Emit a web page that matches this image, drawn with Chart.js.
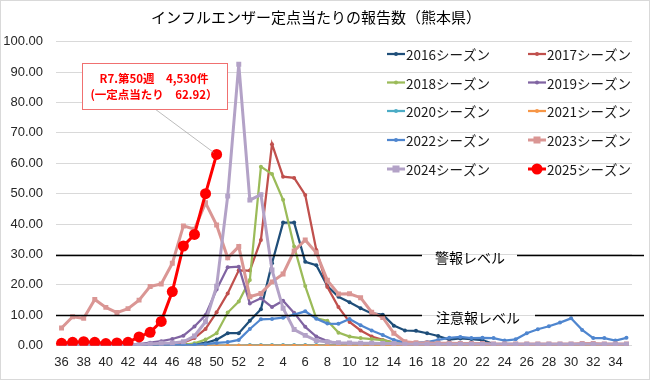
<!DOCTYPE html>
<html>
<head>
<meta charset="utf-8">
<script src="https://cdn.jsdelivr.net/npm/chart.js@4.4.1/dist/chart.umd.min.js"></script>
<style>
  html, body { margin: 0; padding: 0; background: #ffffff; }
  #wrap { position: relative; width: 650px; height: 380px; }
  canvas { display: block; }
</style>
</head>
<body>
<div id="wrap"><canvas id="c" width="650" height="380"></canvas></div>
<script>
// ---- data ----
const weeks = ['36','37','38','39','40','41','42','43','44','45','46','47','48','49','50','51','52',
  '1','2','3','4','5','6','7','8','9','10','11','12','13','14','15','16','17','18','19','20',
  '21','22','23','24','25','26','27','28','29','30','31','32','33','34','35'];

const s2016 = [0.2,0.2,0.2,0.2,0.2,0.2,0.2,0.2,0.3,0.3,0.3,0.4,0.5,0.9,2.0,4.1,4.1,
  8.2,12.0,27.1,40.5,40.5,27.6,26.5,19.6,16.1,14.3,12.3,10.6,10.2,6.6,5.0,4.9,4.1,3.2,2.0,2.4,
  2.2,1.8,0.5,0.3,0.3,0.3,0.3,0.3,0.3,0.3,0.3,0.3,0.3,0.3,0.3];
const s2017 = [0.1,0.1,0.1,0.1,0.1,0.1,0.1,0.1,0.1,0.1,0.5,1.0,2.5,5.5,11.0,17.2,24.8,
  24.7,34.8,66.3,55.6,55.2,49.6,31.5,19.3,12.7,7.8,5.0,3.0,1.9,1.0,0.6,0.5,0.3,0.3,0.3,0.3,
  0.3,0.3,0.3,0.3,0.3,0.3,0.3,0.3,0.3,0.3,0.3,0.3,0.3,0.3,0.3];
const s2018 = [0.2,0.2,0.2,0.2,0.2,0.2,0.2,0.2,0.2,0.2,0.2,0.3,0.8,2.0,4.1,10.9,14.5,
  21.6,58.9,56.5,48.0,32.6,19.6,9.0,8.2,4.3,3.0,2.5,2.2,1.8,1.0,0.5,0.3,0.3,0.3,0.3,0.3,
  0.3,0.3,0.3,0.3,0.3,0.3,0.3,0.3,0.3,0.3,0.3,0.3,0.3,0.3,0.3];
const s2019 = [0.3,0.3,0.3,0.3,0.3,0.3,0.3,0.5,1.0,1.5,2.2,3.3,6.3,10.1,18.5,25.8,26.0,
  13.9,15.6,12.7,14.8,10.8,6.2,3.0,1.5,0.8,0.5,0.3,0.3,0.3,0.3,0.3,0.3,0.3,0.3,0.3,0.3,
  0.3,0.3,0.3,0.3,0.3,0.3,0.3,0.3,0.3,0.3,0.3,0.3,0.3,0.3,0.3];
const s2020 = [0.1,0.1,0.1,0.1,0.1,0.1,0.1,0.1,0.1,0.1,0.1,0.1,0.1,0.1,0.1,0.1,0.1,
  0.2,0.2,0.2,0.2,0.2,0.2,0.2,0.2,0.2,0.2,0.1,0.1,0.1,0.1,0.1,0.1,0.1,0.1,0.1,0.1,
  0.1,0.1,0.1,0.1,0.1,0.1,0.1,0.1,0.1,0.1,0.1,0.1,0.1,0.1,0.1];
const s2021 = [0.0,0.0,0.0,0.0,0.0,0.0,0.0,0.0,0.0,0.0,0.0,0.0,0.0,0.0,0.0,0.0,0.0,
  0.0,0.0,0.0,0.0,0.0,0.0,0.0,0.0,0.0,0.0,0.0,0.0,0.0,0.0,0.0,0.0,0.0,0.0,0.0,0.0,
  0.0,0.0,0.0,0.0,0.1,0.1,0.1,0.1,0.1,0.1,0.2,0.2,0.1,0.1,0.1];
const s2022 = [0.2,0.2,0.2,0.2,0.2,0.2,0.2,0.2,0.2,0.2,0.2,0.2,0.3,0.5,0.9,1.2,1.9,
  5.5,8.7,8.8,9.2,10.2,11.3,8.9,7.3,7.2,8.8,6.7,5.0,3.5,1.9,1.0,1.0,1.2,1.9,2.6,2.9,
  2.5,2.6,2.5,1.7,2.1,4.1,5.4,6.4,7.6,9.0,5.2,2.5,2.5,1.7,2.6];
const s2023 = [5.8,9.5,9.0,15.2,12.6,10.9,12.2,15.0,19.5,20.3,27.1,39.4,38.3,47.0,39.7,28.9,32.6,
  16.1,17.2,21.0,23.6,31.2,34.8,30.6,21.5,17.0,17.1,15.8,11.0,9.3,4.1,1.3,1.0,0.9,0.8,0.8,0.7,
  0.7,0.7,0.6,0.6,0.6,0.6,0.6,0.6,0.6,0.6,0.7,0.7,0.6,0.6,0.6];
const s2024 = [0.3,0.3,0.3,0.3,0.3,0.3,0.3,0.3,0.6,0.8,0.9,1.3,3.2,7.9,19.6,49.2,92.6,
  47.9,49.7,24.9,12.3,5.3,3.4,1.7,1.2,1.0,0.9,0.8,0.8,0.7,0.7,0.5,0.5,0.5,0.5,0.5,0.5,
  0.5,0.5,0.5,0.5,0.5,0.5,0.5,0.5,0.5,0.5,0.5,0.5,0.5,0.5,0.5];
const s2025 = [0.8,1.1,1.3,1.1,0.7,0.9,1.1,2.9,4.4,8.0,17.8,32.8,36.6,50.0,62.92];

const seasonNames = ['2016シーズン','2017シーズン','2018シーズン','2019シーズン','2020シーズン',
  '2021シーズン','2022シーズン','2023シーズン','2024シーズン','2025シーズン'];
const seasonColors = ['#1F4E79','#C0504D','#9BBB59','#8064A2','#4BACC6',
  '#F79646','#4F86CF','#DA9694','#B3A2C7','#FF0000'];

const alertLevel = 30;     // 警報レベル
const advisoryLevel = 10;  // 注意報レベル
const calloutLines = ['R7.第50週　4,530件', '(一定点当たり　62.92）'];
const yTicks = [0,10,20,30,40,50,60,70,80,90,100];

// ---- datasets ----
const seriesData = [s2016,s2017,s2018,s2019,s2020,s2021,s2022,s2023,s2024,s2025];
const styles = seriesData.map((_, i) => {
  if (i === 9) return { bw: 3, ps: 'circle', pr: 5.5 };
  if (i === 7 || i === 8) return { bw: 3, ps: 'rect', pr: 3.5 };
  return { bw: 2.25, ps: 'circle', pr: 2 };
});
const datasets = seriesData.map((d, i) => ({
  label: seasonNames[i],
  data: d,
  borderColor: seasonColors[i],
  backgroundColor: seasonColors[i],
  borderWidth: styles[i].bw,
  pointStyle: styles[i].ps,
  pointRadius: styles[i].pr,
  pointBorderWidth: 0,
  tension: 0,
  fill: false,
  spanGaps: false,
  order: 9 - i
}));

// ---- custom drawing plugin ----
const overlay = {
  id: 'overlay',
  afterDatasetsDraw(chart) {
    const ctx = chart.ctx;
    const ca = chart.chartArea;
    const y = chart.scales.y;
    const x = chart.scales.x;
    ctx.save();
    // level lines
    ctx.strokeStyle = '#000';
    ctx.lineWidth = 1.5;
    const ya = Math.round(y.getPixelForValue(alertLevel)) + 0.5;
    const yb = Math.round(y.getPixelForValue(advisoryLevel)) + 0.5;
    ctx.beginPath();
    ctx.moveTo(ca.left, ya); ctx.lineTo(422, ya);
    ctx.moveTo(517, ya); ctx.lineTo(644, ya);
    ctx.moveTo(ca.left, yb); ctx.lineTo(422, yb);
    ctx.moveTo(535, yb); ctx.lineTo(644, yb);
    ctx.stroke();
    ctx.fillStyle = '#000';
    ctx.font = '14px "Noto Sans CJK JP"';
    ctx.textBaseline = 'middle';
    ctx.textAlign = 'left';
    ctx.fillText('警報レベル', 435, ya + 2);
    ctx.fillText('注意報レベル', 436, yb + 2);

    // callout
    const idx = s2025.length - 1;
    const px = x.getPixelForValue(idx);
    const py = y.getPixelForValue(s2025[idx]);
    ctx.strokeStyle = '#A6A6A6';
    ctx.lineWidth = 0.75;
    ctx.beginPath();
    ctx.moveTo(155, 109); ctx.lineTo(px - 3, py - 2);
    ctx.stroke();
    ctx.fillStyle = '#ffffff';
    ctx.fillRect(82, 63, 145, 46);
    ctx.strokeStyle = '#F07070';
    ctx.lineWidth = 1;
    ctx.strokeRect(82.5, 63.5, 145, 46);
    ctx.fillStyle = '#FF0000';
    ctx.font = 'bold 11.5px "Noto Sans CJK JP"';
    ctx.textAlign = 'center';
    ctx.fillText(calloutLines[0], 154, 79);
    ctx.fillText(calloutLines[1], 154, 95);

    // legend
    ctx.font = '13.5px "Noto Sans CJK JP"';
    ctx.textAlign = 'left';
    const rows = [54, 82.5, 111, 140, 169];
    const cols = [387, 528];
    chart.data.datasets.forEach((ds, i) => {
      const cx = cols[i % 2];
      const cy = rows[Math.floor(i / 2)];
      ctx.strokeStyle = ds.borderColor;
      ctx.lineWidth = ds.borderWidth;
      ctx.beginPath();
      ctx.moveTo(cx, cy); ctx.lineTo(cx + 18, cy);
      ctx.stroke();
      ctx.fillStyle = ds.borderColor;
      const r = ds.pointRadius;
      if (ds.pointStyle === 'rect') {
        ctx.fillRect(cx + 9 - r, cy - r, 2 * r, 2 * r);
      } else {
        ctx.beginPath(); ctx.arc(cx + 9, cy, r, 0, Math.PI * 2); ctx.fill();
      }
      ctx.fillStyle = '#1a1a1a';
      ctx.fillText(ds.label, cx + 19, cy + 1);
    });

    // outer border
    ctx.strokeStyle = '#D9D9D9';
    ctx.lineWidth = 1;
    ctx.strokeRect(0.5, 0.5, chart.width - 1, chart.height - 1);
    ctx.restore();
  }
};

const bg = {
  id: 'bg',
  beforeDraw(chart) {
    const ctx = chart.ctx;
    ctx.save();
    ctx.fillStyle = '#fff';
    ctx.fillRect(0, 0, chart.width, chart.height);
    ctx.restore();
  }
};

new Chart(document.getElementById('c'), {
  type: 'line',
  data: { labels: weeks, datasets },
  options: {
    responsive: false,
    animation: false,
    devicePixelRatio: 1,
    layout: { padding: { left: 0, right: 18, top: 0, bottom: 0 } },
    plugins: {
      legend: { display: false },
      tooltip: { enabled: false },
      title: {
        display: true,
        text: 'インフルエンザー定点当たりの報告数（熊本県）',
        color: '#000',
        font: { family: '"Noto Sans CJK JP"', size: 15, weight: 'normal', lineHeight: 1.2 },
        padding: { top: 8, bottom: 15.7 }
      }
    },
    scales: {
      x: {
        offset: true,
        grid: { display: false, drawTicks: false },
        border: { display: false },
        ticks: {
          autoSkip: false,
          maxRotation: 0,
          padding: 9,
          color: '#262626',
          font: { family: '"Liberation Sans", Arial, sans-serif', size: 13 },
          callback: function (v, i) { return i % 2 === 0 ? weeks[i] : ''; }
        },
        afterFit(scale) { scale.height = 34.3; }
      },
      y: {
        min: 0, max: 100,
        afterBuildTicks(scale) { scale.ticks = yTicks.map(v => ({ value: v })); },
        grid: { color: '#D9D9D9', lineWidth: 1, drawTicks: false },
        border: { display: false },
        ticks: {
          padding: 13,
          color: '#262626',
          font: { family: '"Liberation Sans", Arial, sans-serif', size: 13 },
          callback: v => Number(v).toFixed(2)
        },
        afterFit(scale) { scale.width = 56; }
      }
    }
  },
  plugins: [bg, overlay]
});
</script>
</body>
</html>
